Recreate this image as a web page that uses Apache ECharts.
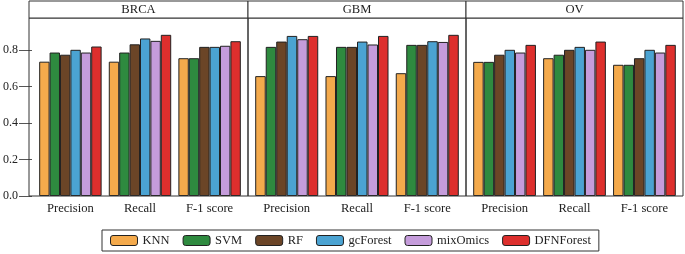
<!DOCTYPE html>
<html>
<head>
<meta charset="utf-8">
<script src="https://cdn.jsdelivr.net/npm/echarts@6/dist/echarts.min.js"></script>
<style>html,body{margin:0;padding:0;background:#fff;}#c{width:685px;height:254px;}</style>
</head>
<body>
<div id="c"></div>
<script>
const panels = ['BRCA', 'GBM', 'OV'];
const metrics = ['Precision', 'Recall', 'F-1 score'];
const methods = ['KNN', 'SVM', 'RF', 'gcForest', 'mixOmics', 'DFNForest'];
const colors = ['#F4AA4C', '#2E8A3F', '#6B4527', '#4BA3D2', '#C59CDB', '#DD2F2D'];
// values per method: [Precision, Recall, F-1 score]
const brcaValues = [
  [0.735, 0.735, 0.754],
  [0.785, 0.785, 0.754],
  [0.773, 0.830, 0.816],
  [0.800, 0.862, 0.816],
  [0.785, 0.849, 0.822],
  [0.818, 0.882, 0.847]
];
const gbmValues = [
  [0.656, 0.656, 0.672],
  [0.816, 0.816, 0.827],
  [0.845, 0.816, 0.827],
  [0.876, 0.845, 0.847],
  [0.858, 0.829, 0.843],
  [0.876, 0.876, 0.882]
];
const ovValues = [
  [0.734, 0.754, 0.718],
  [0.734, 0.773, 0.718],
  [0.773, 0.800, 0.754],
  [0.800, 0.816, 0.800],
  [0.785, 0.800, 0.785],
  [0.827, 0.845, 0.827]
];
const yTicks = [0, 0.2, 0.4, 0.6, 0.8];
const panelValues = [brcaValues, gbmValues, ovValues];

const font = "'Liberation Serif', 'DejaVu Serif', serif";
const panelLefts = [29, 248, 466];
const panelWidths = [219, 218, 217];
const plotTop = 18, plotBottomY = 196;
const inset = 3.6;

const grids = panelLefts.map((l, i) => ({
  left: l + inset, top: plotTop, width: panelWidths[i] - 2 * inset, height: plotBottomY - plotTop,
  show: false
}));
const xAxes = panels.map((p, i) => ({
  type: 'category', gridIndex: i, data: metrics,
  axisLine: { show: false },
  axisTick: { show: false },
  axisLabel: { color: '#222', fontFamily: font, fontSize: 12.6, margin: 6 }
}));
const yAxes = panels.map((p, i) => ({
  type: 'value', gridIndex: i, min: 0, max: 0.974, interval: 0.2,
  show: i === 0, offset: inset,
  splitLine: { show: false },
  axisLine: { show: false },
  axisTick: { show: true, length: 13, lineStyle: { color: '#555' }, customValues: yTicks },
  axisLabel: { color: '#222', fontFamily: font, fontSize: 12, margin: 14,
    customValues: yTicks, formatter: v => v.toFixed(1) }
}));
const series = [];
panelValues.forEach((vals, pi) => {
  methods.forEach((m, mi) => {
    series.push({
      name: m, type: 'bar', xAxisIndex: pi, yAxisIndex: pi,
      data: vals[mi], barGap: '0%', barCategoryGap: '10.3%',
      itemStyle: { color: colors[mi], borderColor: '#222', borderWidth: 1 },
      emphasis: { disabled: true }
    });
  });
});
const graphics = [];
panels.forEach((p, i) => {
  graphics.push({
    type: 'rect', shape: { x: panelLefts[i], y: plotTop, width: panelWidths[i], height: plotBottomY - plotTop },
    style: { fill: 'none', stroke: '#333', lineWidth: 1 }, z: 10
  });
  graphics.push({
    type: 'rect', shape: { x: panelLefts[i], y: 1, width: panelWidths[i], height: plotTop - 1 },
    style: { fill: '#fff', stroke: '#333', lineWidth: 1 }, z: 10
  });
  graphics.push({
    type: 'text', x: panelLefts[i] + panelWidths[i] / 2, y: (plotTop + 1) / 2 + 0.5,
    style: { text: p, fill: '#222', font: '12.6px ' + font, textAlign: 'center', textVerticalAlign: 'middle' }, z: 11
  });
});

const chart = echarts.init(document.getElementById('c'), null, { renderer: 'canvas' });
chart.setOption({
  animation: false,
  backgroundColor: '#fff',
  grid: grids,
  xAxis: xAxes,
  yAxis: yAxes,
  series: series,
  legend: {
    data: methods, left: 102, top: 230,
    itemWidth: 27, itemHeight: 10, itemGap: 13,
    padding: [4, 8], borderColor: '#333', borderWidth: 1,
    textStyle: { color: '#222', fontFamily: font, fontSize: 12.5 },
    itemStyle: { borderColor: '#222', borderWidth: 1 }
  },
  graphic: graphics
});
</script>
</body>
</html>
